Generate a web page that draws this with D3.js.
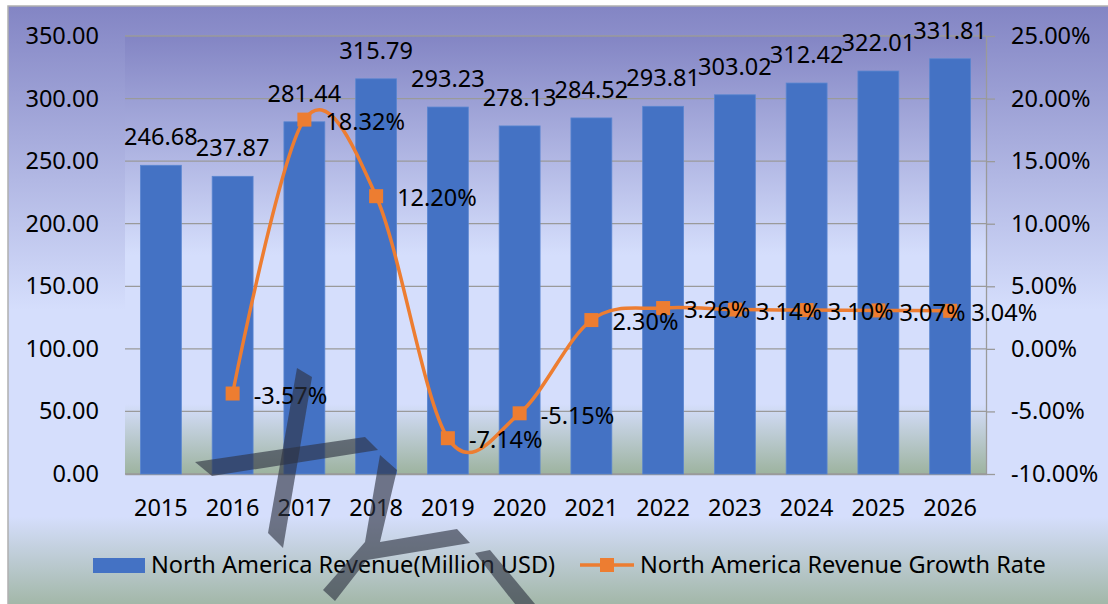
<!DOCTYPE html>
<html>
<head>
<meta charset="utf-8">
<script src="https://cdn.jsdelivr.net/npm/d3@7"></script>
<style>
body { margin: 0; background: #fff; }
text { font-family: "Noto Sans", "Open Sans", sans-serif; fill: #000; }
</style>
</head>
<body>
<script>
var years = ["2015","2016","2017","2018","2019","2020","2021","2022","2023","2024","2025","2026"];
var revenue = [246.68, 237.87, 281.44, 315.79, 293.23, 278.13, 284.52, 293.81, 303.02, 312.42, 322.01, 331.81];
var growth = [null, -3.57, 18.32, 12.20, -7.14, -5.15, 2.30, 3.26, 3.14, 3.10, 3.07, 3.04];
var leftTicks = [0, 50, 100, 150, 200, 250, 300, 350];
var rightTicks = [-10, -5, 0, 5, 10, 15, 20, 25];
var seriesNames = ["North America Revenue(Million USD)", "North America Revenue Growth Rate"];

// watermark strokes (decoration only)
var watermark = [
  [[195,462],[365,437],[378,450],[212,476]],
  [[297,368],[312,377],[283,548],[268,533]],
  [[380,455],[397,470],[380,542],[457,529],[470,543],[367,560],[335,601],[323,590],[365,542]],
  [[475,553],[490,550],[535,604],[515,604]]
];

var width = 1108, height = 604;
var plot = {left: 125, right: 986, top: 36, bottom: 474};
var fontSize = 23.5;

// plain hyphen instead of unicode minus
var fmt2 = function(v) { return d3.format(".2f")(v).replace("\u2212", "-"); };

var svg = d3.select("body").append("svg")
    .attr("width", width)
    .attr("height", height);

var defs = svg.append("defs");
function bgGrad(id) {
  var g = defs.append("linearGradient").attr("id", id)
      .attr("x1", 0).attr("y1", 0).attr("x2", 0).attr("y2", 1);
  g.append("stop").attr("offset", "0%").attr("stop-color", "#8385c4");
  g.append("stop").attr("offset", "50%").attr("stop-color", "#d5defc");
  g.append("stop").attr("offset", "84%").attr("stop-color", "#d5defc");
  g.append("stop").attr("offset", "100%").attr("stop-color", "#9db39f");
}
bgGrad("outerBg");
bgGrad("plotBg");

svg.append("rect")
    .attr("x", 8).attr("y", 6)
    .attr("width", width).attr("height", height + 4)
    .attr("fill", "url(#outerBg)")
    .attr("stroke", "#b0b0b0").attr("stroke-width", 1.5);

svg.append("rect")
    .attr("x", plot.left).attr("y", plot.top)
    .attr("width", plot.right - plot.left).attr("height", plot.bottom - plot.top)
    .attr("fill", "url(#plotBg)");

var x = d3.scaleBand()
    .domain(years)
    .range([plot.left, plot.right])
    .paddingInner(0.43)
    .paddingOuter(0.215);

var y = d3.scaleLinear()
    .domain([0, 350])
    .range([plot.bottom, plot.top]);

var y2 = d3.scaleLinear()
    .domain([-10, 25])
    .range([plot.bottom, plot.top]);

// gridlines
svg.append("g").selectAll("line")
    .data(leftTicks)
    .enter().append("line")
    .attr("x1", plot.left).attr("x2", plot.right)
    .attr("y1", function(d) { return y(d); })
    .attr("y2", function(d) { return y(d); })
    .attr("stroke", "#9a9a9a").attr("stroke-width", 1.3);

var yAxis = d3.axisLeft(y)
    .tickValues(leftTicks)
    .tickFormat(fmt2)
    .tickSize(0)
    .tickPadding(26);

var gy = svg.append("g")
    .attr("transform", "translate(" + plot.left + ",0)")
    .call(yAxis);
gy.select(".domain").remove();

var y2Axis = d3.axisRight(y2)
    .tickValues(rightTicks)
    .tickFormat(function(d) { return fmt2(d) + "%"; })
    .tickSizeInner(9)
    .tickSizeOuter(0)
    .tickPadding(16);

var gy2 = svg.append("g")
    .attr("transform", "translate(" + plot.right + ",0)")
    .call(y2Axis);
gy2.select(".domain").attr("stroke", "#9a9a9a").attr("stroke-width", 1.3);
gy2.selectAll(".tick line").attr("stroke", "#9a9a9a").attr("stroke-width", 1.3);

var xAxis = d3.axisBottom(x)
    .tickSize(0)
    .tickPadding(25);

var gx = svg.append("g")
    .attr("transform", "translate(0," + plot.bottom + ")")
    .call(xAxis);
gx.select(".domain").attr("stroke", "#9a9a9a").attr("stroke-width", 1.3);

svg.selectAll(".tick text")
    .attr("font-size", fontSize)
    .attr("font-family", "Noto Sans")
    .attr("fill", "#000");

// bars
svg.append("g").selectAll("rect")
    .data(revenue)
    .enter().append("rect")
    .attr("x", function(d, i) { return x(years[i]); })
    .attr("y", function(d) { return y(d); })
    .attr("width", x.bandwidth())
    .attr("height", function(d) { return y(0) - y(d); })
    .attr("fill", "#4472c4")
    .attr("stroke", "#5a86d0").attr("stroke-width", 0.8);

svg.append("g").selectAll("text")
    .data(revenue)
    .enter().append("text")
    .attr("x", function(d, i) { return x(years[i]) + x.bandwidth() / 2; })
    .attr("y", function(d) { return y(d) - 20; })
    .attr("text-anchor", "middle")
    .attr("font-size", fontSize)
    .text(fmt2);

// growth line
var pts = [];
growth.forEach(function(g, i) {
  if (g !== null) pts.push({year: years[i], value: g});
});

var line = d3.line()
    .x(function(d) { return x(d.year) + x.bandwidth() / 2; })
    .y(function(d) { return y2(d.value); })
    .curve(d3.curveCardinal.tension(0));

svg.append("path")
    .datum(pts)
    .attr("d", line)
    .attr("fill", "none")
    .attr("stroke", "#ed7d31")
    .attr("stroke-width", 3.5);

svg.append("g").selectAll("rect")
    .data(pts)
    .enter().append("rect")
    .attr("x", function(d) { return x(d.year) + x.bandwidth() / 2 - 7; })
    .attr("y", function(d) { return y2(d.value) - 7; })
    .attr("width", 14).attr("height", 14)
    .attr("fill", "#ed7d31");

svg.append("g").selectAll("text")
    .data(pts)
    .enter().append("text")
    .attr("x", function(d) { return x(d.year) + x.bandwidth() / 2 + 21; })
    .attr("y", function(d) { return y2(d.value) + 2; })
    .attr("dy", "0.35em")
    .attr("font-size", fontSize)
    .text(function(d) { return fmt2(d.value) + "%"; });

// legend
var legend = svg.append("g");
legend.append("rect")
    .attr("x", 93).attr("y", 558).attr("width", 52).attr("height", 15)
    .attr("fill", "#4472c4");
legend.append("text")
    .attr("x", 151).attr("y", 573)
    .attr("font-size", fontSize)
    .text(seriesNames[0]);
legend.append("line")
    .attr("x1", 580).attr("x2", 634).attr("y1", 565).attr("y2", 565)
    .attr("stroke", "#ed7d31").attr("stroke-width", 3.5);
legend.append("rect")
    .attr("x", 600).attr("y", 558).attr("width", 14).attr("height", 14)
    .attr("fill", "#ed7d31");
legend.append("text")
    .attr("x", 640).attr("y", 573)
    .attr("font-size", fontSize)
    .text(seriesNames[1]);

// watermark
svg.append("g").selectAll("path")
    .data(watermark)
    .enter().append("path")
    .attr("d", function(d) { return "M" + d.join("L") + "Z"; })
    .attr("fill", "rgba(45,50,65,0.62)");
</script>
</body>
</html>
